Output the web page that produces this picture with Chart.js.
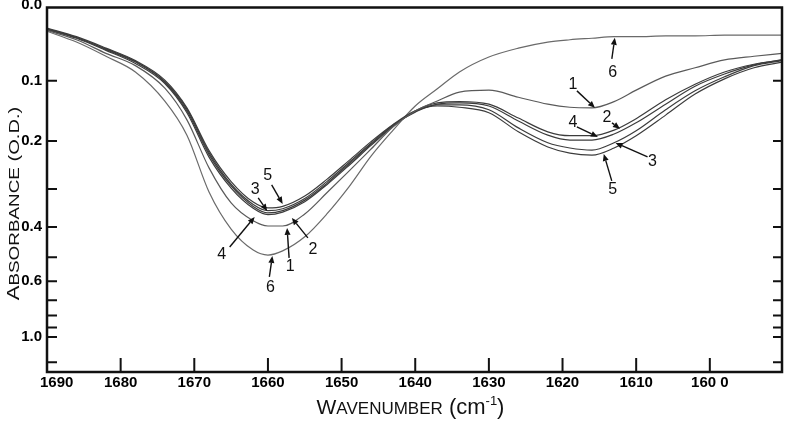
<!DOCTYPE html>
<html><head><meta charset="utf-8">
<script src="https://cdn.jsdelivr.net/npm/chart.js@4/dist/chart.umd.min.js"></script>
<style>html,body{margin:0;padding:0;background:#fff;overflow:hidden}#wrap{width:786px;height:421px}</style>
</head><body><div id="wrap"><canvas id="c" width="786" height="421"></canvas></div>
<script>
// ---- data (absorbance, O.D.) ----
const wavenumbers = [1690,1686,1682,1678,1674,1671,1668,1665,1662,1660,1658,1655,1652,1649,1646,1643,1640,1637,1634,1630,1626,1622,1619,1616,1613,1610,1606,1602,1598,1594,1590.2];
const curve1 = [0.031,0.043,0.061,0.078,0.111,0.162,0.253,0.334,0.382,0.397,0.397,0.363,0.309,0.260,0.215,0.174,0.147,0.131,0.117,0.114,0.125,0.136,0.141,0.142,0.132,0.114,0.093,0.081,0.070,0.065,0.061];
const curve2 = [0.029,0.040,0.056,0.073,0.102,0.147,0.226,0.293,0.343,0.360,0.354,0.327,0.287,0.245,0.206,0.172,0.147,0.134,0.132,0.136,0.159,0.183,0.190,0.190,0.180,0.160,0.129,0.105,0.087,0.076,0.070];
const curve3 = [0.029,0.040,0.055,0.072,0.101,0.144,0.222,0.289,0.338,0.354,0.349,0.323,0.283,0.242,0.204,0.171,0.149,0.137,0.137,0.145,0.176,0.203,0.213,0.217,0.203,0.181,0.145,0.115,0.094,0.078,0.071];
const curve4 = [0.030,0.041,0.057,0.075,0.104,0.150,0.231,0.298,0.348,0.365,0.358,0.331,0.290,0.248,0.208,0.173,0.148,0.136,0.134,0.139,0.164,0.189,0.198,0.198,0.187,0.167,0.136,0.108,0.090,0.077,0.070];
const curve5 = [0.028,0.039,0.054,0.071,0.099,0.142,0.218,0.283,0.332,0.347,0.343,0.317,0.278,0.238,0.201,0.170,0.147,0.139,0.141,0.150,0.183,0.211,0.223,0.227,0.213,0.190,0.154,0.120,0.097,0.081,0.073];
const curve6 = [0.032,0.046,0.065,0.087,0.131,0.189,0.307,0.406,0.474,0.492,0.477,0.430,0.363,0.295,0.229,0.180,0.139,0.112,0.087,0.066,0.054,0.046,0.043,0.041,0.039,0.039,0.038,0.038,0.037,0.037,0.037];
const seriesNames = ['1','2','3','4','5','6'];

const xTickValues = [1690,1680,1670,1660,1650,1640,1630,1620,1610,1600];
const xTickLabels = ['1690','1680','1670','1660','1650','1640','1630','1620','1610','160 0'];
const yTickAbs = [0,0.1,0.2,0.3,0.4,0.5,0.6,0.7,0.8,0.9,1.0,1.5];
const yTickLabels = ['0.0','0.1','0.2','','0.4','','0.6','','','','1.0',''];

// curve labels: number, arrow tip (wavenumber, absorbance)
const labelNums = ['5','3','4','2','1','6','1','6','4','2','3','5'];
const labelWn   = [1658.0,1660.1,1661.8,1656.75,1657.4,1659.4,1615.6,1612.9,1615.2,1612.2,1612.8,1614.4];
const labelAbs  = [0.3366,0.3549,0.3712,0.3739,0.4027,0.4953,0.1420,0.0405,0.1922,0.1777,0.2033,0.2245];
// pixel offsets from tip: arrow tail and text centre
const labelTail = [[-11,-19],[-9,-13],[-25,30],[16,20],[2,30],[-3,21],[-18,-17],[-3,21],[-21,-10],[-8,-6],[32,14],[8,27]];
const labelText = [[-15,-28],[-12,-21],[-33,38],[21,32],[3,39],[-2,32],[-22,-23],[-2,35],[-25,-14],[-13,-11],[37,19],[9,36]];

// linear-transmittance absorbance axis
const toV = a => 1 - Math.pow(10, -a);
const FONT = "'Liberation Sans', Arial, sans-serif";

const allCurves = [curve1,curve2,curve3,curve4,curve5,curve6];
const colors = ['#5a5a5a','#3c3c3c','#3c3c3c','#3c3c3c','#3c3c3c','#6a6a6a'];

const decor = {
  id: 'decor',
  afterDraw(chart) {
    const {ctx, chartArea: ca, scales: {x, y}} = chart;
    ctx.save();
    // frame
    ctx.strokeStyle = '#111';
    ctx.lineWidth = 2.5;
    const topY = ca.top + 2.5;
    ctx.strokeRect(ca.left, topY, ca.right - ca.left, ca.bottom - topY);
    // ticks (inward)
    ctx.lineWidth = 2;
    ctx.beginPath();
    xTickValues.forEach(v => {
      if (v === 1690) return;
      const px = x.getPixelForValue(v);
      ctx.moveTo(px, ca.bottom); ctx.lineTo(px, ca.bottom - 14);
    });
    yTickAbs.forEach(a => {
      if (a === 0) return;
      const py = y.getPixelForValue(toV(a));
      ctx.moveTo(ca.left, py); ctx.lineTo(ca.left + 10, py);
      ctx.moveTo(ca.right, py); ctx.lineTo(ca.right - 9, py);
    });
    ctx.stroke();
    // first x label nudged off the corner
    ctx.fillStyle = '#000';
    ctx.font = 'bold 15px ' + FONT;
    ctx.textAlign = 'left'; ctx.textBaseline = 'middle';
    ctx.fillText(xTickLabels[0], x.getPixelForValue(1690) - 7, ca.bottom + 11);

    // curve labels with arrows
    ctx.font = '16px ' + FONT;
    ctx.textAlign = 'center'; ctx.textBaseline = 'middle';
    ctx.strokeStyle = '#111'; ctx.fillStyle = '#111'; ctx.lineWidth = 1.4;
    labelNums.forEach((n, i) => {
      const tx = x.getPixelForValue(labelWn[i]);
      const ty = y.getPixelForValue(toV(labelAbs[i]));
      const sx = tx + labelTail[i][0], sy = ty + labelTail[i][1];
      const ang = Math.atan2(ty - sy, tx - sx);
      const hl = 7, hw = 3;
      const bx = tx - hl * Math.cos(ang), by = ty - hl * Math.sin(ang);
      ctx.beginPath(); ctx.moveTo(sx, sy); ctx.lineTo(bx, by); ctx.stroke();
      ctx.beginPath();
      ctx.moveTo(tx, ty);
      ctx.lineTo(bx + hw * Math.sin(ang), by - hw * Math.cos(ang));
      ctx.lineTo(bx - hw * Math.sin(ang), by + hw * Math.cos(ang));
      ctx.closePath(); ctx.fill();
      ctx.fillText(n, tx + labelText[i][0], ty + labelText[i][1]);
    });

    // axis titles (small caps)
    const drawParts = (parts, cx, base, stretch) => {
      let w = 0;
      parts.forEach(p => { ctx.font = p.s + 'px ' + FONT; p.w = ctx.measureText(p.t).width; w += p.w; });
      ctx.save();
      ctx.translate(cx, base);
      ctx.scale(stretch, 1);
      let cur = -w / 2;
      ctx.textAlign = 'left'; ctx.textBaseline = 'alphabetic';
      parts.forEach(p => { ctx.font = p.s + 'px ' + FONT; ctx.fillText(p.t, cur, p.dy || 0); cur += p.w; });
      ctx.restore();
    };
    ctx.fillStyle = '#111';
    drawParts([{t:'W',s:21},{t:'AVENUMBER',s:17},{t:' (cm',s:22},{t:'-1',s:13,dy:-9},{t:')',s:22}],
      (ca.left + ca.right) / 2 - 4, 414, 1);
    ctx.save();
    ctx.translate(18.5, 203.5);
    ctx.rotate(-Math.PI / 2);
    drawParts([{t:'A',s:17},{t:'BSORBANCE',s:14.5},{t:' (O.D.)',s:15.5}], 0, 0, 1.3);
    ctx.restore();
    ctx.restore();
  }
};

new Chart(document.getElementById('c'), {
  type: 'line',
  data: {
    datasets: allCurves.map((c, k) => ({
      label: seriesNames[k],
      data: wavenumbers.map((w, i) => ({x: w, y: toV(c[i])})),
      borderColor: colors[k],
      borderWidth: 1.2,
      pointRadius: 0,
      fill: false,
      cubicInterpolationMode: 'monotone'
    }))
  },
  options: {
    responsive: false,
    animation: false,
    events: [],
    layout: {padding: {top: 5, right: 4, left: 0, bottom: 0}},
    plugins: {legend: {display: false}, tooltip: {enabled: false}},
    scales: {
      x: {
        type: 'linear', reverse: true, min: 1590.2, max: 1690,
        afterBuildTicks: s => { s.ticks = xTickValues.map(v => ({value: v})); },
        afterFit: s => { s.height = 49; s.paddingLeft = 0; s.paddingRight = 0; },
        ticks: {
          autoSkip: false, maxRotation: 0, padding: 2, color: '#000',
          font: {family: FONT, size: 15, weight: 'bold'},
          callback: (v, i) => i === 0 ? '' : xTickLabels[i]
        },
        grid: {display: false, drawTicks: false},
        border: {display: false}
      },
      y: {
        type: 'linear', reverse: true, min: 0, max: 0.995,
        afterBuildTicks: s => { s.ticks = yTickAbs.map(a => ({value: toV(a)})); },
        afterFit: s => { s.width = 47; s.paddingTop = 0; s.paddingBottom = 0; },
        ticks: {
          autoSkip: false, padding: 5, color: '#000',
          font: {family: FONT, size: 15, weight: 'bold'},
          callback: (v, i) => yTickLabels[i]
        },
        grid: {display: false, drawTicks: false},
        border: {display: false}
      }
    }
  },
  plugins: [decor]
});
</script>
</body></html>
